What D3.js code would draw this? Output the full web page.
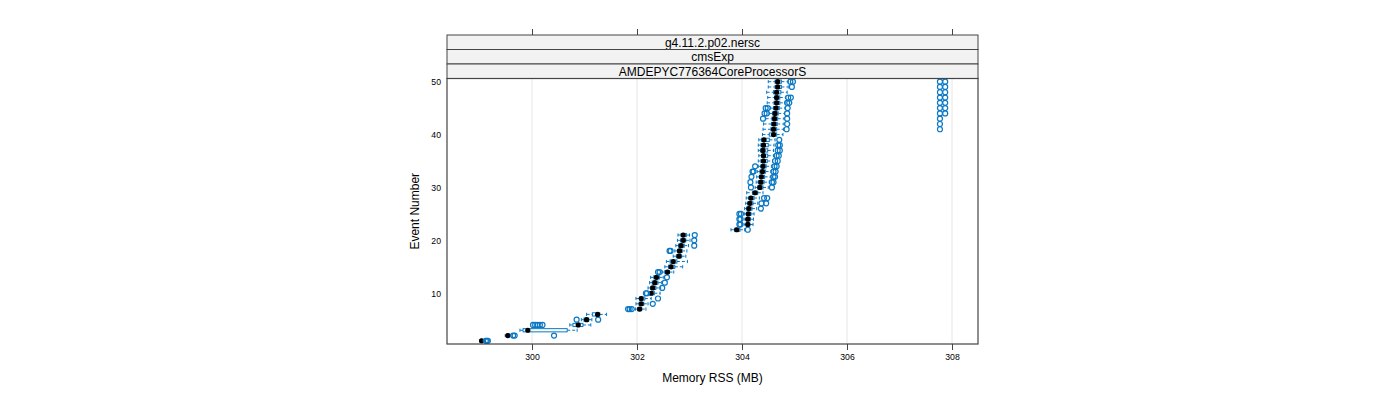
<!DOCTYPE html>
<html>
<head>
<meta charset="utf-8">
<script src="https://cdn.jsdelivr.net/npm/d3@7"></script>
<style>
  html, body { margin: 0; padding: 0; background: #fff; }
  svg { display: block; }
  text { font-family: "Liberation Sans", Arial, Helvetica, sans-serif; fill: #000; }
</style>
</head>
<body>
<svg id="chart" width="1400" height="400"></svg>
<script>
// ---------------- data ----------------
const stripLabels = ["g4.11.2.p02.nersc", "cmsExp", "AMDEPYC776364CoreProcessorS"];
const events = d3.range(1, 51);
const xTicks = [300, 302, 304, 306, 308];
const yTicks = [10, 20, 30, 40, 50];
const xTitle = "Memory RSS (MB)";
const yTitle = "Event Number";

// five-number summaries per event (lower whisker, q1, median, q3, upper whisker)
const whiskLo = [299.00,299.49,299.77,300.72,300.94,301.04,301.97,301.98,301.98,302.22,
                 302.21,302.24,302.26,302.48,302.53,302.56,302.69,302.72,302.74,302.77,
                 302.78,303.79,304.04,304.04,304.05,304.05,304.07,304.08,304.09,304.25,
                 304.27,304.28,304.29,304.31,304.31,304.32,304.31,304.31,304.32,304.39,
                 304.40,304.41,304.45,304.52,304.54,304.48,304.49,304.47,304.50,304.50];
const q1 =      [299.02,299.52,299.83,300.78,300.99,301.15,302.01,302.04,302.05,302.24,
                 302.26,302.29,302.32,302.53,302.60,302.63,302.75,302.77,302.79,302.83,
                 302.84,303.86,304.08,304.08,304.09,304.09,304.11,304.13,304.20,304.30,
                 304.31,304.33,304.34,304.36,304.36,304.37,304.35,304.36,304.37,304.52,
                 304.55,304.56,304.57,304.58,304.60,304.61,304.62,304.60,304.63,304.63];
const median =  [299.04,299.54,299.92,300.88,301.04,301.25,302.05,302.08,302.08,302.27,
                 302.30,302.34,302.37,302.58,302.65,302.69,302.80,302.81,302.84,302.88,
                 302.88,303.90,304.11,304.11,304.12,304.13,304.15,304.17,304.25,304.34,
                 304.36,304.37,304.39,304.40,304.41,304.41,304.40,304.41,304.42,304.60,
                 304.60,304.61,304.62,304.63,304.65,304.66,304.66,304.66,304.68,304.68];
const q3 =      [299.06,299.57,300.67,300.97,301.08,301.29,302.09,302.13,302.15,302.33,
                 302.36,302.40,302.43,302.62,302.72,302.76,302.85,302.86,302.90,302.93,
                 302.94,303.96,304.15,304.16,304.17,304.19,304.21,304.23,304.30,304.40,
                 304.42,304.43,304.45,304.46,304.48,304.49,304.49,304.50,304.52,304.66,
                 304.66,304.67,304.68,304.69,304.71,304.72,304.72,304.74,304.75,304.75];
const whiskHi = [299.08,299.60,300.86,301.12,301.14,301.42,302.17,302.21,302.27,302.44,
                 302.45,302.47,302.50,302.70,302.87,302.96,302.93,302.95,302.98,303.01,
                 303.00,304.05,304.21,304.22,304.23,304.28,304.30,304.33,304.40,304.50,
                 304.52,304.54,304.55,304.56,304.58,304.60,304.60,304.61,304.63,304.78,
                 304.79,304.80,304.80,304.81,304.82,304.82,304.83,304.86,304.88,304.88];
const outliers = [
  [299.12,299.14,299.16],
  [299.64,299.67,300.42],
  [],
  [300.02,300.06,300.10,300.15,300.20],
  [300.85,301.26],
  [],
  [301.83,301.86,301.90],
  [302.30],
  [302.40],
  [302.17,302.19],
  [302.48],
  [302.53],
  [302.57],
  [302.40,302.43],
  [],
  [],
  [],
  [302.62,302.64],
  [303.09],
  [303.09],
  [303.10],
  [304.11],
  [303.95,303.97],
  [303.95,303.97],
  [303.95,303.98],
  [304.36],
  [304.37,304.46],
  [304.42,304.48],
  [],
  [304.17,304.57],
  [304.16,304.57,304.60],
  [304.18,304.60,304.63],
  [304.20,304.22,304.60,304.64],
  [304.25,304.62,304.66],
  [304.63,304.68],
  [304.66,304.70],
  [304.68,304.72],
  [304.69,304.72],
  [304.71],
  [],
  [304.85,307.77],
  [304.86,307.77],
  [304.40,304.86,307.77],
  [304.43,304.47,304.86,307.77,307.87],
  [304.45,304.49,304.87,307.77,307.87],
  [304.86,304.90,307.77,307.87],
  [304.88,304.93,307.77,307.87],
  [307.77,307.87],
  [304.95,307.77,307.87],
  [304.92,304.97,307.77,307.87]
];

// ---------------- layout ----------------
const panel = { left: 447, right: 978, top: 78.5, bottom: 344 };
const stripH = 14.5;
const blue = "#0a78c4";
const frameCol = "#444";

const svg = d3.select("#chart");

const x = d3.scaleLinear().domain([298.381, 308.495]).range([panel.left, panel.right]);
const y = d3.scaleLinear().domain([0.4, 50.6]).range([panel.bottom, panel.top]);

// grid lines
svg.append("g").selectAll("line").data(xTicks).join("line")
  .attr("x1", d => x(d)).attr("x2", d => x(d))
  .attr("y1", panel.top).attr("y2", panel.bottom)
  .attr("stroke", "#e6e6e6").attr("stroke-width", 1);

// bottom axis
const bottomAxis = d3.axisBottom(x).tickValues(xTicks).tickSize(6).tickPadding(4).tickFormat(d3.format("d"));
const gb = svg.append("g").attr("transform", `translate(0,${panel.bottom})`).call(bottomAxis);
gb.select(".domain").remove();
gb.selectAll(".tick line").attr("stroke", frameCol);
gb.selectAll(".tick text").attr("font-size", "8.7px").attr("fill", "#000")
  .attr("font-family", "'Liberation Sans', Arial, sans-serif");

// top axis (ticks only, above strips)
const stripTop = panel.top - 3 * stripH;
const topAxis = d3.axisTop(x).tickValues(xTicks).tickSize(6).tickFormat("");
const gt = svg.append("g").attr("transform", `translate(0,${stripTop})`).call(topAxis);
gt.select(".domain").remove();
gt.selectAll(".tick line").attr("stroke", frameCol);

// left axis labels (no tick marks)
const leftAxis = d3.axisLeft(y).tickValues(yTicks).tickSize(0).tickPadding(6).tickFormat(d3.format("d"));
const gl = svg.append("g").attr("transform", `translate(${panel.left},0)`).call(leftAxis);
gl.select(".domain").remove();
gl.selectAll(".tick text").attr("font-size", "8.7px").attr("fill", "#000")
  .attr("font-family", "'Liberation Sans', Arial, sans-serif");

// strips
const strips = svg.append("g");
stripLabels.forEach((lab, i) => {
  const yy = stripTop + i * stripH;
  strips.append("rect")
    .attr("x", panel.left).attr("y", yy)
    .attr("width", panel.right - panel.left).attr("height", stripH)
    .attr("fill", "#f2f2f2").attr("stroke", frameCol).attr("stroke-width", 1);
  strips.append("text")
    .attr("x", (panel.left + panel.right) / 2).attr("y", yy + stripH / 2 + 4.3)
    .attr("text-anchor", "middle").attr("font-size", "12px").text(lab);
});

// boxes
const bh = 3.2;
const g = svg.append("g");
events.forEach((e, i) => {
  const cy = y(e);
  // whiskers (dashed)
  g.append("line").attr("x1", x(whiskLo[i])).attr("x2", x(q1[i])).attr("y1", cy).attr("y2", cy)
    .attr("stroke", blue).attr("stroke-width", 1).attr("stroke-dasharray", "3,2");
  g.append("line").attr("x1", x(q3[i])).attr("x2", x(whiskHi[i])).attr("y1", cy).attr("y2", cy)
    .attr("stroke", blue).attr("stroke-width", 1).attr("stroke-dasharray", "3,2");
  // caps
  [whiskLo[i], whiskHi[i]].forEach(v => {
    g.append("line").attr("x1", x(v)).attr("x2", x(v)).attr("y1", cy - bh / 2).attr("y2", cy + bh / 2)
      .attr("stroke", blue).attr("stroke-width", 1);
  });
  // box
  g.append("rect").attr("x", x(q1[i])).attr("y", cy - bh / 2)
    .attr("width", Math.max(0.5, x(q3[i]) - x(q1[i]))).attr("height", bh)
    .attr("fill", "none").attr("stroke", blue).attr("stroke-width", 1);
  // median
  g.append("circle").attr("cx", x(median[i])).attr("cy", cy).attr("r", 2.6).attr("fill", "#000");
  // outliers
  outliers[i].forEach(v => {
    g.append("circle").attr("cx", x(v)).attr("cy", cy).attr("r", 2.5)
      .attr("fill", "none").attr("stroke", blue).attr("stroke-width", 1.2);
  });
});

// panel frame
svg.append("rect")
  .attr("x", panel.left).attr("y", panel.top)
  .attr("width", panel.right - panel.left).attr("height", panel.bottom - panel.top)
  .attr("fill", "none").attr("stroke", frameCol).attr("stroke-width", 1.2);

// axis titles
svg.append("text").attr("x", (panel.left + panel.right) / 2).attr("y", 382)
  .attr("text-anchor", "middle").attr("font-size", "12px").text(xTitle);
svg.append("text").attr("transform", `translate(419,${(panel.top + panel.bottom) / 2}) rotate(-90)`)
  .attr("text-anchor", "middle").attr("font-size", "12px").text(yTitle);
</script>
</body>
</html>
